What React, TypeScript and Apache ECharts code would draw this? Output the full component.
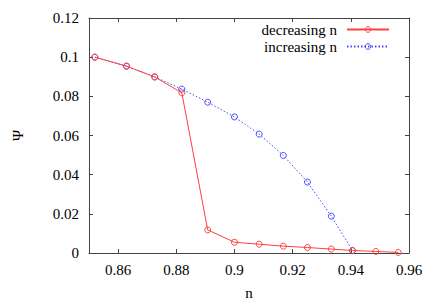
import React, { useEffect, useRef } from "react";
import * as echarts from "echarts";

const nValues = [0.852, 0.8629, 0.8726, 0.8819, 0.8908, 0.9, 0.9085, 0.9168, 0.9251, 0.9333, 0.9406, 0.9486, 0.9563];
const decreasingPsi = [0.1, 0.0954, 0.0899, 0.0818, 0.0118, 0.0055, 0.0045, 0.0035, 0.0028, 0.002, 0.0013, 0.0008, 0.0003];
const increasingPsi = [0.1, 0.0954, 0.0899, 0.0837, 0.077, 0.0695, 0.0607, 0.0498, 0.0362, 0.0188, 0.0012];
const seriesNames = ["decreasing n", "increasing n"];

const FONT = "Times New Roman";
const FRAME = "#444";
const RED = "#ff4040";
const BLUE = "#4848ff";

export default function App() {
  const ref = useRef<HTMLDivElement>(null);
  useEffect(() => {
    if (!ref.current) return;
    const chart = echarts.init(ref.current, null, { renderer: "svg" });
    const xCommon = {
      type: "value" as const,
      min: 0.85,
      max: 0.96,
      splitNumber: 5,
      minInterval: 0.02,
      maxInterval: 0.02,
      splitLine: { show: false },
      axisLine: { show: true, onZero: false, lineStyle: { color: FRAME, width: 1 } },
      axisTick: { show: true, inside: true, length: 4, lineStyle: { color: FRAME } },
    };
    const yCommon = {
      type: "value" as const,
      min: 0,
      max: 0.12,
      interval: 0.02,
      splitLine: { show: false },
      axisLine: { show: true, onZero: false, lineStyle: { color: FRAME, width: 1 } },
      axisTick: { show: true, inside: true, length: 4, lineStyle: { color: FRAME } },
    };
    const txt = { fontFamily: FONT, fontSize: 15, color: "#000" };
    chart.setOption({
      animation: false,
      backgroundColor: "#fff",
      textStyle: { fontFamily: FONT },
      grid: { left: 89, right: 27, top: 18, bottom: 47 },
      legend: {
        data: [
          { name: seriesNames[0], itemStyle: { color: "transparent", borderColor: RED, borderWidth: 1 } },
          { name: seriesNames[1], itemStyle: { color: "transparent", borderColor: BLUE, borderWidth: 1 } },
        ],
        orient: "vertical",
        right: 46,
        top: 22,
        align: "right",
        itemWidth: 42,
        itemHeight: 7,
        itemGap: 2,
        padding: 0,
        textStyle: { ...txt, padding: [0, 5, 0, 0] },
      },
      xAxis: [
        {
          ...xCommon,
          position: "bottom",
          name: "n",
          nameLocation: "middle",
          nameGap: 32,
          nameTextStyle: txt,
          axisLabel: { show: true, showMinLabel: false, margin: 9, ...txt },
        },
        { ...xCommon, position: "top", axisLabel: { show: false } },
      ],
      yAxis: [
        {
          ...yCommon,
          position: "left",
          name: "Ψ",
          nameLocation: "middle",
          nameRotate: 90,
          nameGap: 64,
          nameTextStyle: txt,
          axisLabel: { show: true, margin: 10, ...txt },
        },
        { ...yCommon, position: "right", axisLabel: { show: false } },
      ],
      series: [
        {
          name: seriesNames[0],
          type: "line",
          xAxisIndex: 0,
          yAxisIndex: 0,
          data: decreasingPsi.map((v, i) => [nValues[i], v]),
          symbol: "circle",
          symbolSize: 6,
          color: RED,
          lineStyle: { color: RED, width: 1 },
          itemStyle: { color: "none", borderColor: RED, borderWidth: 1 },
          z: 3,
        },
        {
          name: seriesNames[1],
          type: "line",
          xAxisIndex: 0,
          yAxisIndex: 0,
          data: increasingPsi.map((v, i) => [nValues[i], v]),
          symbol: "circle",
          symbolSize: 6,
          color: BLUE,
          lineStyle: { color: BLUE, width: 1, type: [1.5, 2] },
          itemStyle: { color: "none", borderColor: BLUE, borderWidth: 1 },
          z: 2,
        },
      ],
    });
    return () => chart.dispose();
  }, []);
  return (
    <div
      ref={ref}
      style={{ position: "fixed", left: 0, top: 0, width: 436, height: 305, background: "#fff" }}
    />
  );
}
